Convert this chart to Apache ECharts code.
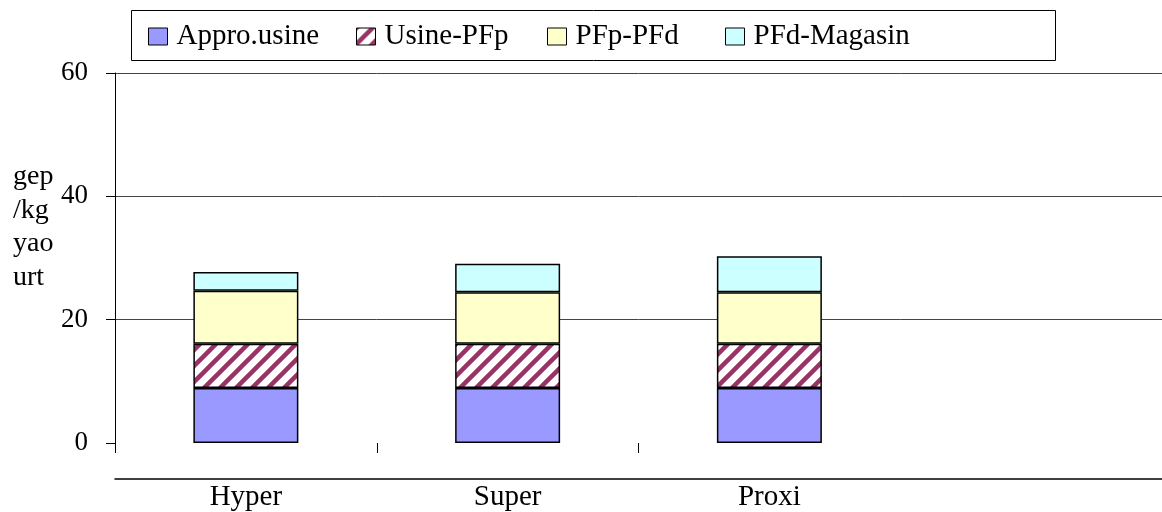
<!DOCTYPE html>
<html>
<head>
<meta charset="utf-8">
<script src="https://cdn.jsdelivr.net/npm/echarts@6/dist/echarts.min.js"></script>
<style>html,body{margin:0;padding:0;background:#fff}#c{width:1162px;height:512px}</style>
</head>
<body>
<div id="c"></div>
<script>
var categories = ['Hyper', 'Super', 'Proxi', ''];
var seriesNames = ['Appro.usine', 'Usine-PFp', 'PFp-PFd', 'PFd-Magasin'];
var approUsine = [8.9, 8.9, 8.9];
var usinePFp = [7.2, 7.2, 7.2];
var pfpPFd = [8.6, 8.35, 8.35];
var pfdMagasin = [3.05, 4.6, 5.85];
var yTicks = [0, 20, 40, 60];
var yAxisTitle = 'gep\n/kg\nyao\nurt';

var FONT = 'Liberation Serif';

// hatch pattern
var hc = document.createElement('canvas');
hc.width = 16; hc.height = 16;
var hx = hc.getContext('2d');
hx.fillStyle = '#ffffff'; hx.fillRect(0, 0, 16, 16);
hx.strokeStyle = '#993366'; hx.lineWidth = 4.5;
hx.beginPath();
hx.moveTo(-4, 20); hx.lineTo(20, -4);
hx.moveTo(-12, 12); hx.lineTo(12, -12);
hx.moveTo(4, 28); hx.lineTo(28, 4);
hx.stroke();
var hatch = { image: hc, repeat: 'repeat' };

var colors = ['#9999ff', hatch, '#ffffcc', '#ccffff'];
var datas = [approUsine, usinePFp, pfpPFd, pfdMagasin];
var legendLeft = [148, 356, 547, 725];

var series = seriesNames.map(function (n, i) {
  return {
    name: n, type: 'bar', stack: 'total', barWidth: 105,
    data: datas[i],
    itemStyle: { color: colors[i], borderColor: '#000', borderWidth: 1.5 },
    emphasis: { disabled: true }
  };
});

var legends = seriesNames.map(function (n, i) {
  return {
    data: [{ name: n, icon: 'rect' }], left: legendLeft[i], top: 22, padding: 0,
    itemWidth: 19, itemHeight: 17, itemGap: 9,
    textStyle: { fontFamily: FONT, fontSize: 29, color: '#000', lineHeight: 28, padding: [0, 0, 0, 4] },
    itemStyle: { borderColor: '#000', borderWidth: 1 },
    selectedMode: false
  };
});

var chart = echarts.init(document.getElementById('c'));
chart.setOption({
  animation: false,
  backgroundColor: '#fff',
  legend: legends,
  grid: { left: 115, right: -11, top: 73, bottom: 63, containLabel: false },
  xAxis: [{
    type: 'category', data: categories, position: 'bottom',
    axisLine: { show: false },
    axisTick: { show: true, length: 10, lineStyle: { color: '#000', width: 1 },
      interval: function (idx) { return idx <= 2; } },
    axisLabel: { show: false }
  }, {
    type: 'category', data: categories, position: 'bottom', offset: 36,
    axisLine: { show: true, lineStyle: { color: '#000', width: 1.5 } },
    axisTick: { show: false },
    axisLabel: { fontFamily: FONT, fontSize: 29, color: '#000', margin: 4 }
  }],
  yAxis: {
    type: 'value', min: yTicks[0], max: yTicks[yTicks.length - 1], interval: 20,
    axisLine: { show: true, lineStyle: { color: '#000', width: 1 } },
    axisTick: { show: true, length: 9, lineStyle: { color: '#000' } },
    axisLabel: { fontFamily: FONT, fontSize: 27, color: '#000', margin: 27 },
    splitLine: { show: true, showMinLine: false, lineStyle: { color: '#444', width: 1 } }
  },
  graphic: [{
    type: 'rect', left: 131, top: 10, z: -1,
    shape: { width: 924, height: 50 },
    style: { fill: '#fff', stroke: '#000', lineWidth: 1 }
  }, {
    type: 'text', left: 13, top: 160,
    style: { text: yAxisTitle, font: '28px "Liberation Serif"', fill: '#000', lineHeight: 33.5 }
  }],
  series: series
});
</script>
</body>
</html>
